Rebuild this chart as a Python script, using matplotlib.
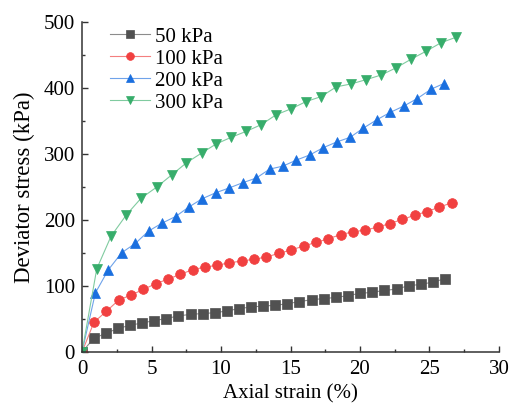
import matplotlib
matplotlib.use("Agg")
import matplotlib.pyplot as plt
from matplotlib.ticker import MultipleLocator

plt.rcParams['font.family'] = ['Liberation Serif', 'DejaVu Serif']

# data
labels = ["50 kPa", "100 kPa", "200 kPa", "300 kPa"]

strain_50 = [0, 0.84, 1.73, 2.59, 3.48, 4.34, 5.21, 6.07, 6.93, 7.83, 8.69, 9.56,
             10.42, 11.28, 12.17, 13.01, 13.92, 14.78, 15.64, 16.54, 17.40, 18.27,
             19.13, 19.98, 20.88, 21.74, 22.63, 23.49, 24.36, 25.22, 26.11]
stress_50 = [0, 20.6, 28.6, 35.7, 40.7, 44.1, 47.7, 50.8, 54.7, 57.2, 58.3, 59.6,
             62.2, 65.8, 68.2, 69.7, 70.8, 73.3, 76.4, 79.4, 80.9, 82.8,
             85.4, 88.9, 90.4, 93.4, 95.3, 100.5, 102.4, 105.9, 111.0]

strain_100 = [0, 0.86, 1.75, 2.64, 3.53, 4.41, 5.31, 6.17, 7.06, 7.97, 8.83, 9.68,
              10.60, 11.52, 12.36, 13.27, 14.16, 15.05, 15.96, 16.85, 17.71, 18.60,
              19.49, 20.37, 21.29, 22.15, 23.04, 23.95, 24.82, 25.70, 26.62]
stress_100 = [0, 45.2, 61.7, 78.8, 86.3, 94.9, 103.5, 110.4, 117.5, 125.0, 128.5, 131.5,
              135.1, 138.1, 140.5, 144.1, 149.5, 154.7, 160.7, 166.1, 171.7, 177.7,
              182.2, 184.8, 189.3, 194.7, 200.8, 207.4, 212.8, 219.4, 226.4]

strain_200 = [0, 0.96, 1.89, 2.86, 3.84, 4.79, 5.76, 6.73, 7.70, 8.66, 9.63, 10.58,
              11.56, 12.53, 13.50, 14.45, 15.41, 16.38, 17.35, 18.32, 19.29, 20.25,
              21.22, 22.17, 23.18, 24.12, 25.10, 26.01]
stress_200 = [0, 89.5, 124.5, 150.6, 164.6, 183.3, 195.3, 205.3, 219.9, 232.4, 241.4, 248.5,
              256.5, 263.5, 277.1, 281.6, 290.7, 298.5, 309.5, 318.2, 325.3, 339.3,
              352.0, 363.0, 373.0, 384.0, 398.0, 406.6]

strain_300 = [0, 1.06, 2.09, 3.19, 4.25, 5.38, 6.46, 7.51, 8.62, 9.65, 10.73, 11.81,
              12.89, 13.97, 15.05, 16.13, 17.21, 18.29, 19.37, 20.45, 21.53, 22.61,
              23.69, 24.77, 25.85, 26.93]
stress_300 = [0, 126.0, 175.5, 207.8, 233.0, 250.0, 268.5, 286.6, 301.7, 315.2, 325.3, 334.3,
              344.4, 359.5, 368.5, 379.5, 387.0, 401.7, 406.2, 412.7, 419.7, 430.7,
              443.8, 455.9, 468.8, 477.0]

colors = ["#515151", "#F14040", "#1A6FDF", "#37AD6B"]
line_colors = ["#8c8c8c", "#f47f7f", "#6fa3ea", "#80cba0"]
markers = ["s", "o", "^", "v"]
sizes = [6.5, 7, 7.5, 7.5]

fig = plt.figure(figsize=(5.11, 4.07), dpi=100)
ax = fig.add_axes([0.1605, 0.135, 0.816, 0.811])

series = [(strain_50, stress_50), (strain_100, stress_100),
          (strain_200, stress_200), (strain_300, stress_300)]
for (x, y), lab, c, lc, m, s in zip(series, labels, colors, line_colors, markers, sizes):
    ax.plot(x, y, color=lc, lw=0.8, marker=m, markersize=s,
            markerfacecolor=c, markeredgecolor=c, markeredgewidth=0.5, label=lab)

ax.set_xlim(0, 30)
ax.set_ylim(0, 500)
ax.xaxis.set_major_locator(MultipleLocator(5))
ax.xaxis.set_minor_locator(MultipleLocator(2.5))
ax.yaxis.set_major_locator(MultipleLocator(100))
ax.yaxis.set_minor_locator(MultipleLocator(50))

for side in ["top", "right"]:
    ax.spines[side].set_visible(False)
for side in ["left", "bottom"]:
    ax.spines[side].set_linewidth(1.1)
    ax.spines[side].set_color("#333333")

ax.tick_params(which="major", direction="in", length=4, width=1, labelsize=15,
               color="#333333")
ax.tick_params(which="minor", direction="in", length=2.5, width=1, color="#333333")
ax.tick_params(axis="x", which="major", pad=5.5)
ax.tick_params(axis="y", which="major", pad=5)

ax.set_xlabel("Axial strain (%)", fontsize=15, labelpad=4)
ax.set_ylabel("Deviator stress (kPa)", fontsize=16.4, labelpad=6)

ax.legend(loc="upper left", bbox_to_anchor=(0.068, 0.985), frameon=False,
          fontsize=15, handlelength=1.9, handletextpad=0.25, labelspacing=0.12,
          borderpad=0, borderaxespad=0, markerscale=0.8)

fig.savefig("out.png", dpi=100)
